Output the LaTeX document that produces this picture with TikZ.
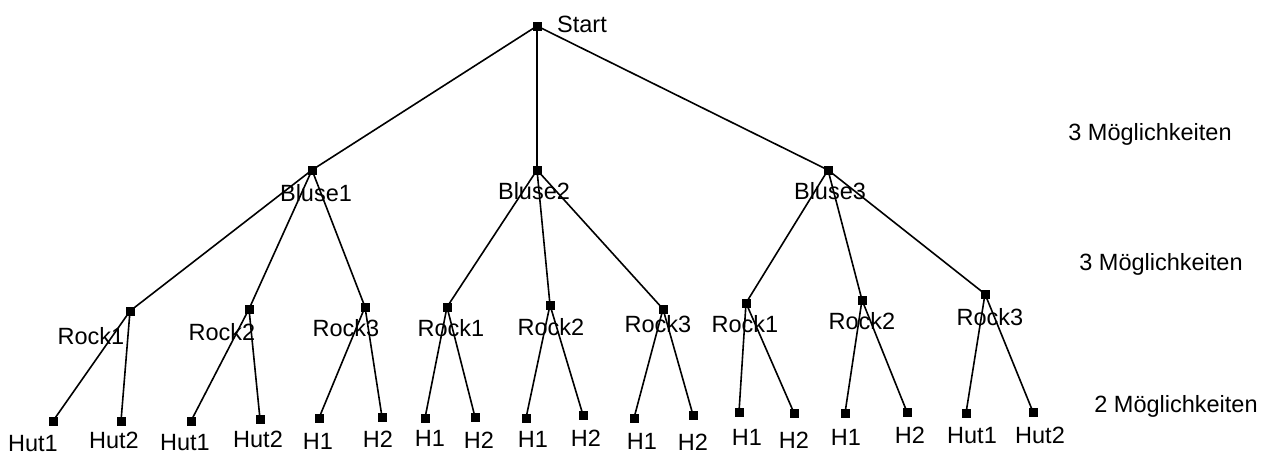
\documentclass[tikz,border=0pt]{standalone}
\usepackage{fontspec}
\setmainfont{Liberation Sans}
\begin{document}
\begin{tikzpicture}[x=1pt,y=-1pt,
  dot/.style={draw=black,fill=black,minimum size=8pt,inner sep=0pt,outer sep=0pt,rectangle},
  lab/.style={inner sep=0pt,text height=16.8pt,text depth=0pt,font=\fontsize{23.5}{28}\selectfont},
  edge/.style={line width=1.6pt,black}]
\useasboundingbox (0,0) rectangle (1273,452);

% tree nodes
\node[dot] (s) at (537,26) {};
\node[dot] (b1) at (312,170) {};
\node[dot] (b2) at (537,170) {};
\node[dot] (b3) at (828,170) {};

\node[dot] (r11) at (130,311) {};
\node[dot] (r12) at (249,309) {};
\node[dot] (r13) at (365,307) {};
\node[dot] (r21) at (447,307) {};
\node[dot] (r22) at (550,305) {};
\node[dot] (r23) at (663,309) {};
\node[dot] (r31) at (746,303) {};
\node[dot] (r32) at (862,300) {};
\node[dot] (r33) at (985,294) {};

\node[dot] (l1)  at (53,421) {};
\node[dot] (l2)  at (121,421) {};
\node[dot] (l3)  at (191,421) {};
\node[dot] (l4)  at (260,419) {};
\node[dot] (l5)  at (319,418) {};
\node[dot] (l6)  at (382,417) {};
\node[dot] (l7)  at (425,418) {};
\node[dot] (l8)  at (475,417) {};
\node[dot] (l9)  at (526,418) {};
\node[dot] (l10) at (583,415) {};
\node[dot] (l11) at (634,418) {};
\node[dot] (l12) at (693,415) {};
\node[dot] (l13) at (739,412) {};
\node[dot] (l14) at (794,413) {};
\node[dot] (l15) at (845,413) {};
\node[dot] (l16) at (907,412) {};
\node[dot] (l17) at (966,413) {};
\node[dot] (l18) at (1033,412) {};

% branches
\begin{scope}[on background layer/.style={}]
\foreach \a/\b in {s/b1,s/b2,s/b3,
  b1/r11,b1/r12,b1/r13,b2/r21,b2/r22,b2/r23,b3/r31,b3/r32,b3/r33,
  r11/l1,r11/l2,r12/l3,r12/l4,r13/l5,r13/l6,
  r21/l7,r21/l8,r22/l9,r22/l10,r23/l11,r23/l12,
  r31/l13,r31/l14,r32/l15,r32/l16,r33/l17,r33/l18}
  \draw[edge] (\a.center) -- (\b.center);
\end{scope}

% labels
\node[lab,anchor=west] (ts) at (557,24) {Start};
\node[lab] (tb1) at (316,193) {Bluse1};
\node[lab] (tb2) at (534,191) {Bluse2};
\node[lab] (tb3) at (830,191) {Bluse3};

\node[lab] (tr11) at (91,336) {Rock1};
\node[lab] (tr12) at (222,332) {Rock2};
\node[lab] (tr13) at (346,328) {Rock3};
\node[lab] (tr21) at (451,328) {Rock1};
\node[lab] (tr22) at (551,327) {Rock2};
\node[lab] (tr23) at (658,324) {Rock3};
\node[lab] (tr31) at (745,324) {Rock1};
\node[lab] (tr32) at (862,321) {Rock2};
\node[lab] (tr33) at (990,317) {Rock3};

\node[lab] (tl1)  at (33,443) {Hut1};
\node[lab] (tl2)  at (114,440) {Hut2};
\node[lab] (tl3)  at (185,442) {Hut1};
\node[lab] (tl4)  at (258,439) {Hut2};
\node[lab] (tl5)  at (318,441) {H1};
\node[lab] (tl6)  at (378,439) {H2};
\node[lab] (tl7)  at (430,438) {H1};
\node[lab] (tl8)  at (479,440) {H2};
\node[lab] (tl9)  at (533,439) {H1};
\node[lab] (tl10) at (586,438) {H2};
\node[lab] (tl11) at (642,441) {H1};
\node[lab] (tl12) at (693,442) {H2};
\node[lab] (tl13) at (747,437) {H1};
\node[lab] (tl14) at (794,440) {H2};
\node[lab] (tl15) at (846,437) {H1};
\node[lab] (tl16) at (910,435) {H2};
\node[lab] (tl17) at (972,435) {Hut1};
\node[lab] (tl18) at (1040,435) {Hut2};

% level counts
\node[lab] (m1) at (1150,132) {3 Möglichkeiten};
\node[lab] (m2) at (1161,262) {3 Möglichkeiten};
\node[lab] (m3) at (1176,404) {2 Möglichkeiten};
\end{tikzpicture}
\end{document}
